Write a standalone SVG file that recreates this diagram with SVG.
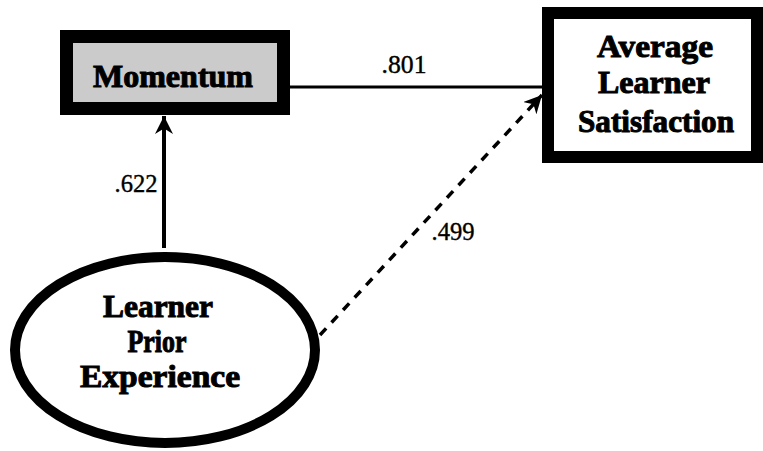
<svg xmlns="http://www.w3.org/2000/svg" width="763" height="451" viewBox="0 0 763 451">
<style>
.node{font-family:"Liberation Serif","Times New Roman",serif;font-weight:bold;font-size:32px;fill:#000;stroke:#000;stroke-width:1;text-anchor:middle}
.lbl{font-family:"Liberation Serif","Times New Roman",serif;font-size:26px;fill:#000;stroke:#000;stroke-width:0.4;text-anchor:middle}
.edge{stroke:#000;fill:none}
</style>
<defs>
<marker id="ah2" viewBox="0 0 10 10" refX="10" refY="5" markerWidth="18" markerHeight="18" markerUnits="userSpaceOnUse" orient="auto">
<path d="M0,0 L10,5 L0,10 L3,5 z" fill="#000"/>
</marker>
</defs>
<rect width="763" height="451" fill="#fff"/>
<g id="connectors">
<line class="edge" x1="290" y1="87" x2="542" y2="87" stroke-width="3"/>
<line class="edge" x1="164" y1="248" x2="164" y2="116" stroke-width="4" marker-end="url(#ah2)"/>
<line class="edge" x1="320" y1="335" x2="542" y2="95" stroke-width="3.5" stroke-dasharray="9 8" marker-end="url(#ah2)"/>
</g>
<g id="momentum">
<rect x="66.5" y="36.5" width="217" height="72" fill="#cbcbcb" stroke="#000" stroke-width="13"/>
<text class="node" x="173" y="87" textLength="160" lengthAdjust="spacingAndGlyphs">Momentum</text>
</g>
<g id="satisfaction">
<rect x="548" y="13" width="209" height="144" fill="#fff" stroke="#000" stroke-width="12"/>
<text class="node" x="655" y="57" textLength="116" lengthAdjust="spacingAndGlyphs">Average</text>
<text class="node" x="654" y="93" textLength="112" lengthAdjust="spacingAndGlyphs">Learner</text>
<text class="node" x="656" y="132" textLength="156" lengthAdjust="spacingAndGlyphs">Satisfaction</text>
</g>
<g id="prior">
<ellipse cx="165" cy="350" rx="150" ry="93" fill="#fff" stroke="#000" stroke-width="10"/>
<text class="node" x="158" y="317" textLength="110" lengthAdjust="spacingAndGlyphs">Learner</text>
<text class="node" x="157" y="352" textLength="59" lengthAdjust="spacingAndGlyphs">Prior</text>
<text class="node" x="160" y="387" textLength="160" lengthAdjust="spacingAndGlyphs">Experience</text>
</g>
<g id="labels">
<text class="lbl" x="404" y="73" textLength="45" lengthAdjust="spacingAndGlyphs">.801</text>
<text class="lbl" x="136" y="192" textLength="43" lengthAdjust="spacingAndGlyphs">.622</text>
<text class="lbl" x="453" y="240" textLength="43" lengthAdjust="spacingAndGlyphs">.499</text>
</g>
</svg>
